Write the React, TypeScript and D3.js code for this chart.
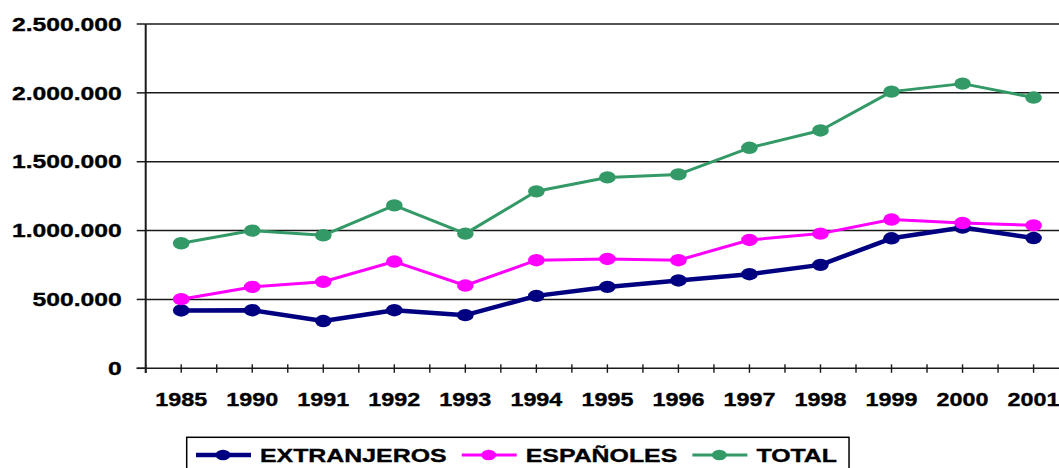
import React from "react";
import * as d3 from "d3";

const years = ["1985","1990","1991","1992","1993","1994","1995","1996","1997","1998","1999","2000","2001"];
const extranjeros = [420000,422000,343000,422000,386000,526000,591000,638000,683000,751000,944000,1022000,946000];
const espanoles = [502000,591000,628000,775000,601000,785000,794000,785000,932000,978000,1080000,1055000,1038000];
const total = [908000,1000000,966000,1183000,978000,1285000,1386000,1408000,1601000,1727000,2009000,2067000,1966000];
const yTicks = [0,500000,1000000,1500000,2000000,2500000];

const seriesNames = ["EXTRANJEROS","ESPAÑOLES","TOTAL"];
const seriesColors = ["#000080","#FF00FF","#339966"];
const seriesWidths = [4.5,3,3];
const seriesData = [extranjeros, espanoles, total];

const W = 1059, H = 468;
const FONT = "'Liberation Sans', Arial, Helvetica, sans-serif";
const FS = 19;

const locale = d3.formatLocale({ decimal: ",", thousands: ".", grouping: [3], currency: ["", ""] });
const fmt = locale.format(",d");

function measure(text: string): number {
  if (typeof document === "undefined") return text.length * 10;
  const c = document.createElement("canvas").getContext("2d");
  if (!c) return text.length * 10;
  c.font = `bold ${FS}px ${FONT}`;
  return c.measureText(text).width;
}

export default function App() {
  const x0 = 145.7;
  const step = 71.03;
  const x = d3.scaleBand<string>().domain(years).range([x0, x0 + step * years.length]).paddingInner(0).paddingOuter(0);
  const cx = (yr: string) => (x(yr) as number) + x.bandwidth() / 2;
  const y = d3.scaleLinear().domain([0, 2500000]).range([368.3, 24]);

  const halfTicks: number[] = [];
  for (let i = 0; i <= years.length * 2; i++) halfTicks.push(x0 + (i * step) / 2);

  const line = d3.line<[number, number]>().x(d => d[0]).y(d => d[1]);

  const sxY = 1.3, sxX = 1.23, sxL = 1.31;
  const textStroke = { stroke: "#000", strokeWidth: 0.35 };

  const legLeft = 186.7, legTop = 437.3;
  const legendItems: { name: string; color: string; w: number; lx: number; tx: number }[] = [];
  let cur = legLeft + 9.3;
  seriesNames.forEach((n, i) => {
    const tw = measure(n) * sxL;
    legendItems.push({ name: n, color: seriesColors[i], w: seriesWidths[i], lx: cur, tx: cur + 64 });
    cur = cur + 64 + tw + 15;
  });
  const legRight = cur - 3;

  return (
    <svg width={W} height={H} style={{ position: "absolute", left: 0, top: 0, background: "#fff" }} fontFamily={FONT}>
      <rect x={0} y={0} width={W} height={H} fill="#fff" />
      {yTicks.filter(t => t > 0).map(t => (
        <line key={t} x1={x0} x2={W} y1={y(t)} y2={y(t)} stroke="#1a1a1a" strokeWidth={1.5} />
      ))}
      {yTicks.map(t => (
        <line key={"yt" + t} x1={136.7} x2={x0} y1={y(t)} y2={y(t)} stroke="#1a1a1a" strokeWidth={1.5} />
      ))}
      <line x1={x0} x2={x0} y1={y(2500000)} y2={373} stroke="#1a1a1a" strokeWidth={2} />
      <line x1={136.7} x2={W} y1={y(0)} y2={y(0)} stroke="#1a1a1a" strokeWidth={1.6} />
      {halfTicks.map((t, i) => (
        <line key={"xt" + i} x1={t} x2={t} y1={y(0) - 4} y2={y(0) + 4.5} stroke="#1a1a1a" strokeWidth={1.4} />
      ))}
      {yTicks.map(t => (
        <text key={"yl" + t} transform={`translate(121.7,${y(t) + 6.7}) scale(${sxY},1)`} textAnchor="end" fontSize={FS} fontWeight="bold" fill="#000" {...textStroke}>
          {fmt(t)}
        </text>
      ))}
      {years.map(yr => (
        <text key={"xl" + yr} transform={`translate(${cx(yr)},406) scale(${sxX},1)`} textAnchor="middle" fontSize={FS} fontWeight="bold" fill="#000" {...textStroke}>
          {yr}
        </text>
      ))}
      {seriesData.map((vals, si) => {
        const pts: [number, number][] = years.map((yr, i) => [cx(yr), y(vals[i])]);
        return (
          <g key={"s" + si}>
            <path d={line(pts) || ""} fill="none" stroke={seriesColors[si]} strokeWidth={seriesWidths[si]} strokeLinejoin="round" />
            {pts.map((p, i) => (
              <ellipse key={i} cx={p[0]} cy={p[1]} rx={8.3} ry={6.2} fill={seriesColors[si]} />
            ))}
          </g>
        );
      })}
      <rect x={legLeft} y={legTop} width={legRight - legLeft} height={40} fill="#fff" stroke="#000" strokeWidth={1.5} />
      {legendItems.map((it, i) => (
        <g key={"lg" + i}>
          <line x1={it.lx} x2={it.lx + 55} y1={455} y2={455} stroke={it.color} strokeWidth={it.w} />
          <ellipse cx={it.lx + 27} cy={455} rx={7.5} ry={5.2} fill={it.color} />
          <text transform={`translate(${it.tx},462.3) scale(${sxL},1)`} fontSize={FS} fontWeight="bold" fill="#000" {...textStroke}>
            {it.name}
          </text>
        </g>
      ))}
    </svg>
  );
}
